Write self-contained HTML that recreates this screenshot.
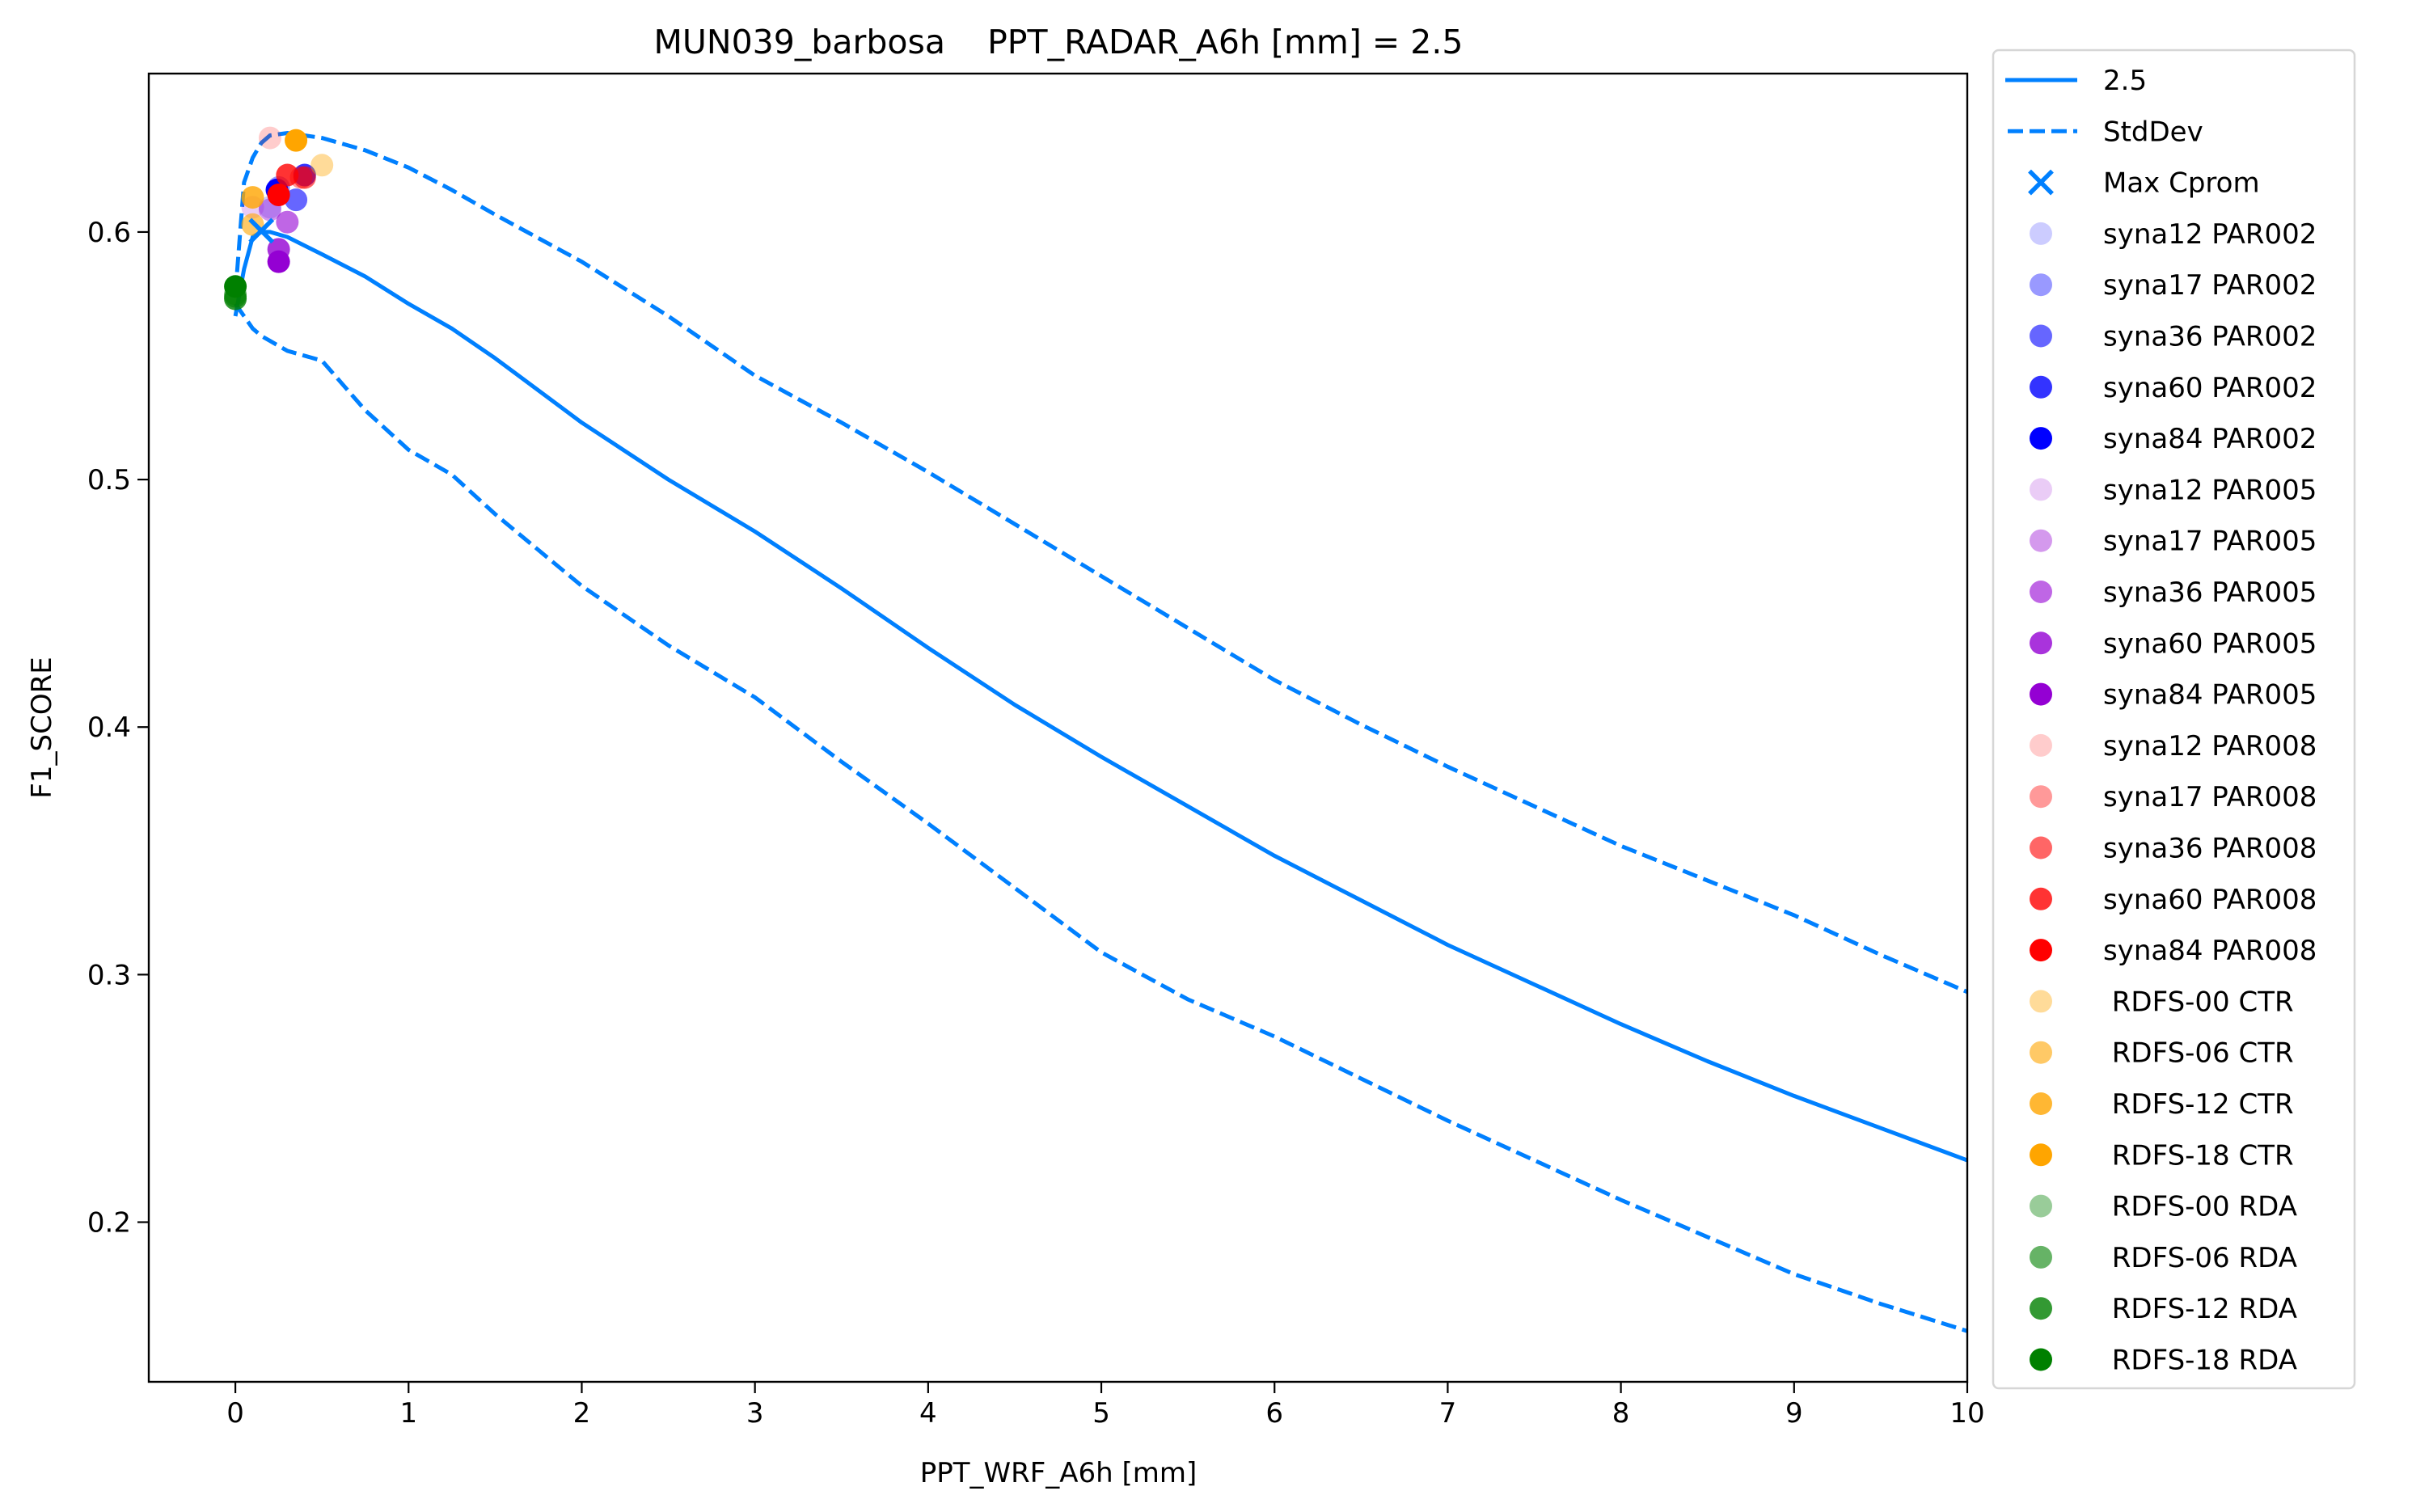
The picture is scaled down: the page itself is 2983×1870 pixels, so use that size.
<!DOCTYPE html>
<html><head><meta charset="utf-8"><style>
body{margin:0;background:#fff}
svg{display:block;font-family:"DejaVu Sans","Liberation Sans",sans-serif}
</style></head><body>
<svg id="chart" width="2983" height="1870" viewBox="0 0 2983 1870" xmlns="http://www.w3.org/2000/svg">
<rect x="0" y="0" width="2983" height="1870" fill="#fff"/>
<g id="plot"></g>
<text x="1309" y="66" font-size="41" text-anchor="middle" xml:space="preserve" style="white-space:pre">MUN039_barbosa    PPT_RADAR_A6h [mm] = 2.5</text>
<text x="1309" y="1833" font-size="34" text-anchor="middle">PPT_WRF_A6h [mm]</text>
<text x="0" y="0" font-size="34" text-anchor="middle" transform="translate(63,900) rotate(-90)">F1_SCORE</text>
<g id="legend"></g>
</svg>
<script>
const xTicks=[0,1,2,3,4,5,6,7,8,9,10];
const yTicks=[0.2,0.3,0.4,0.5,0.6];
const yTickLabels=["0.2","0.3","0.4","0.5","0.6"];
const lineX=[0,0.05,0.1,0.15,0.2,0.3,0.5,0.75,1,1.25,1.5,2,2.5,3,3.5,4,4.5,5,5.5,6,6.5,7,7.5,8,8.5,9,9.5,10];
const meanY=[0.566,0.585,0.598,0.600,0.600,0.598,0.591,0.582,0.571,0.561,0.549,0.523,0.500,0.479,0.456,0.432,0.409,0.388,0.368,0.348,0.330,0.312,0.296,0.280,0.265,0.251,0.238,0.225];
const upperY=[0.575,0.620,0.630,0.636,0.639,0.640,0.638,0.633,0.626,0.617,0.607,0.588,0.566,0.542,0.523,0.503,0.482,0.461,0.440,0.419,0.401,0.384,0.368,0.352,0.338,0.324,0.308,0.293];
const lowerY=[0.571,0.566,0.561,0.558,0.556,0.552,0.548,0.528,0.512,0.502,0.486,0.457,0.433,0.412,0.386,0.361,0.335,0.309,0.290,0.275,0.258,0.241,0.225,0.209,0.194,0.179,0.167,0.156];
const maxX=[0.15];
const maxY=[0.6005];
const seriesNames=["syna12 PAR002","syna17 PAR002","syna36 PAR002","syna60 PAR002","syna84 PAR002","syna12 PAR005","syna17 PAR005","syna36 PAR005","syna60 PAR005","syna84 PAR005","syna12 PAR008","syna17 PAR008","syna36 PAR008","syna60 PAR008","syna84 PAR008"," RDFS-00 CTR"," RDFS-06 CTR"," RDFS-12 CTR"," RDFS-18 CTR"," RDFS-00 RDA"," RDFS-06 RDA"," RDFS-12 RDA"," RDFS-18 RDA"];
const pointX=[0.2,0.25,0.35,0.4,0.24,0.1,0.2,0.3,0.25,0.25,0.2,0.38,0.4,0.3,0.25,0.5,0.1,0.1,0.35,0,0,0,0];
const pointY=[0.610,0.618,0.613,0.623,0.617,0.610,0.609,0.604,0.593,0.588,0.638,0.622,0.622,0.623,0.615,0.627,0.603,0.614,0.637,0.575,0.574,0.573,0.578];
const pointColors=["#0000ff","#0000ff","#0000ff","#0000ff","#0000ff","#9400d3","#9400d3","#9400d3","#9400d3","#9400d3","#ff0000","#ff0000","#ff0000","#ff0000","#ff0000","#ffa500","#ffa500","#ffa500","#ffa500","#008000","#008000","#008000","#008000"];
const pointAlpha=[0.2,0.4,0.6,0.8,1,0.2,0.4,0.6,0.8,1,0.2,0.4,0.6,0.8,1,0.4,0.6,0.8,1,0.4,0.6,0.8,1];

const L=184,R=2433,T=91,B=1709;
const X0=-0.5,X1=10,Y0=0.1355,Y1=0.664;
const sx=v=>L+(v-X0)/(X1-X0)*(R-L);
const sy=v=>B-(v-Y0)/(Y1-Y0)*(B-T);
const NS="http://www.w3.org/2000/svg";
const plot=document.getElementById('plot');
function mk(tag,attrs,parent){const e=document.createElementNS(NS,tag);for(const k in attrs)e.setAttribute(k,attrs[k]);(parent||plot).appendChild(e);return e;}

const clip=mk('clipPath',{id:'clipA'});
mk('rect',{x:L,y:T,width:R-L,height:B-T},clip);

xTicks.forEach((t,i)=>{
  const tk=mk('line',{x1:sx(t),x2:sx(t),y1:B,y2:B+14,stroke:'#000','stroke-width':2.2});
  
  
  const tx=mk('text',{x:sx(t),y:B+50,'font-size':34,'text-anchor':'middle'});
  tx.textContent=String(t);
  
  
});
yTicks.forEach((t,i)=>{
  const tk=mk('line',{x1:L-14,x2:L,y1:sy(t),y2:sy(t),stroke:'#000','stroke-width':2.2});
  
  
  const tx=mk('text',{x:L-22,y:sy(t)+12,'font-size':34,'text-anchor':'end'});
  tx.textContent=yTickLabels[i];
  
  
});

const g=mk('g',{'clip-path':'url(#clipA)'});
function path(xs,ys){return xs.map((x,i)=>(i?'L':'M')+sx(x).toFixed(1)+','+sy(ys[i]).toFixed(1)).join(' ');}
const m=mk('path',{d:path(lineX,meanY),fill:'none',stroke:'#0080ff','stroke-width':5,'stroke-linejoin':'round'},g);


const u=mk('path',{d:path(lineX,upperY),fill:'none',stroke:'#0080ff','stroke-width':5,'stroke-dasharray':'19,8'},g);


const lo=mk('path',{d:path(lineX,lowerY),fill:'none',stroke:'#0080ff','stroke-width':5,'stroke-dasharray':'19,8'},g);



pointX.forEach((x,i)=>{
  const c=mk('circle',{cx:sx(x),cy:sy(pointY[i]),r:14,fill:pointColors[i],'fill-opacity':pointAlpha[i]},g);
  
  
});
maxX.forEach((x,i)=>{
  const cx=sx(x),cy=sy(maxY[i]);
  const p=mk('path',{d:`M${cx-14},${cy-14}L${cx+14},${cy+14}M${cx-14},${cy+14}L${cx+14},${cy-14}`,stroke:'#0080ff','stroke-width':5.5},g);
  
  
});

const frame=mk('rect',{x:L,y:T,width:R-L,height:B-T,fill:'none',stroke:'#000','stroke-width':2.4});



const lg=document.getElementById('legend');
const box=mk('rect',{x:2465,y:62,width:447,height:1655,rx:7,fill:'#fff',stroke:'#d6d6d6','stroke-width':2.5},lg);


const ly=i=>99+i*63.3;
function ltext(i,txt){
  const t=mk('text',{x:2601,y:ly(i)+12,'font-size':34},lg);
  t.textContent=txt;
  
  
}
const l1=mk('line',{x1:2480,x2:2569,y1:ly(0),y2:ly(0),stroke:'#0080ff','stroke-width':5},lg);


ltext(0,'2.5');
const l2=mk('line',{x1:2483,x2:2569,y1:ly(1),y2:ly(1),stroke:'#0080ff','stroke-width':5,'stroke-dasharray':'19,8'},lg);


ltext(1,'StdDev');
const xc=2524,yc=ly(2);
const l3=mk('path',{d:`M${xc-14},${yc-14}L${xc+14},${yc+14}M${xc-14},${yc+14}L${xc+14},${yc-14}`,stroke:'#0080ff','stroke-width':5.5},lg);


ltext(2,'Max Cprom');
seriesNames.forEach((n,i)=>{
  const c=mk('circle',{cx:2524,cy:ly(i+3),r:14,fill:pointColors[i],'fill-opacity':pointAlpha[i]},lg);
  
  
  const t=mk('text',{x:2601,y:ly(i+3)+12,'font-size':34},lg);
  t.setAttribute('style','white-space:pre');
  t.textContent=n;
  
  
});
</script>
</body></html>
